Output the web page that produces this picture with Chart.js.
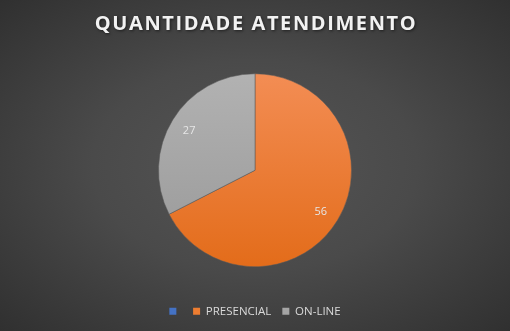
<!DOCTYPE html>
<html>
<head>
<meta charset="utf-8">
<script src="https://cdn.jsdelivr.net/npm/chart.js@4"></script>
<style>
  html, body { margin: 0; padding: 0; }
  #wrap {
    width: 510px; height: 331px;
    background: radial-gradient(ellipse at 50% 50%, #555555 0%, #4a4a4a 45%, #303030 100%);
  }
</style>
</head>
<body>
<div id="wrap"><canvas id="c" width="510" height="331"></canvas></div>
<script>
const TITLE = "QUANTIDADE ATENDIMENTO";
const CATEGORIES = ["", "PRESENCIAL", "ON-LINE"];
const VALUES = [0, 56, 27];
const COLORS = ["#4472C4", "#ED7D31", "#A5A5A5"];
const SHADES = [["#5a86d2", "#3d66b3"], ["#f38d54", "#e36c1a"], ["#b2b2b2", "#989898"]];

const FONT = "'Open Sans', sans-serif";

// vertical gradient across the pie, like the Office fill
const sliceFill = (ctx) => {
  const chart = ctx.chart;
  const i = ctx.dataIndex;
  const area = chart.chartArea;
  if (!area || i == null) return COLORS[i] || COLORS[0];
  const cy = (area.top + area.bottom) / 2;
  const g = chart.ctx.createLinearGradient(0, cy - 97, 0, cy + 97);
  g.addColorStop(0, SHADES[i][0]);
  g.addColorStop(1, SHADES[i][1]);
  return g;
};

// spaced-out title with a soft shadow (built-in title has no letter spacing)
const spacedTitle = {
  id: "spacedTitle",
  afterDraw(chart) {
    const { ctx } = chart;
    ctx.save();
    ctx.font = "bold 20px " + FONT;
    ctx.letterSpacing = "1.6px";
    ctx.fillStyle = "#f2f2f2";
    ctx.shadowColor = "rgba(0,0,0,0.55)";
    ctx.shadowBlur = 3;
    ctx.shadowOffsetX = 1;
    ctx.shadowOffsetY = 1;
    ctx.textAlign = "center";
    ctx.textBaseline = "middle";
    ctx.fillText(TITLE, chart.width / 2 + 1, 24.5);
    ctx.restore();
  }
};

const valueLabels = {
  id: "valueLabels",
  afterDatasetsDraw(chart) {
    const { ctx } = chart;
    const meta = chart.getDatasetMeta(0);
    ctx.save();
    ctx.font = "11px " + FONT;
    ctx.fillStyle = "#e6e6e6";
    ctx.textAlign = "center";
    ctx.textBaseline = "middle";
    meta.data.forEach((arc, i) => {
      if (!VALUES[i]) return;
      const p = arc.getProps(["x", "y", "startAngle", "endAngle", "outerRadius"], true);
      const a = (p.startAngle + p.endAngle) / 2;
      const r = p.outerRadius * 0.8;
      ctx.fillText(String(VALUES[i]), p.x + Math.cos(a) * r, p.y + Math.sin(a) * r + 1);
    });
    ctx.restore();
  }
};

new Chart(document.getElementById("c").getContext("2d"), {
  type: "pie",
  data: {
    labels: CATEGORIES,
    datasets: [{
      data: VALUES,
      backgroundColor: sliceFill,
      borderColor: "rgba(90,90,90,0.7)",
      borderWidth: 0.75,
      radius: 96.5
    }]
  },
  options: {
    responsive: false,
    animation: false,
    layout: { padding: { top: 46, bottom: 4, left: 0, right: 0 } },
    plugins: {
      title: { display: false },
      legend: {
        position: "bottom",
        labels: {
          boxWidth: 7,
          boxHeight: 7,
          padding: 11,
          color: "#d9d9d9",
          font: { family: FONT, size: 11.5 },
          generateLabels: (chart) => CATEGORIES.map((label, i) => ({
            text: label,
            fillStyle: COLORS[i],
            strokeStyle: COLORS[i],
            lineWidth: 0,
            fontColor: "#d9d9d9",
            index: i
          }))
        }
      },
      tooltip: { enabled: false }
    }
  },
  plugins: [valueLabels, spacedTitle]
});
</script>
</body>
</html>
